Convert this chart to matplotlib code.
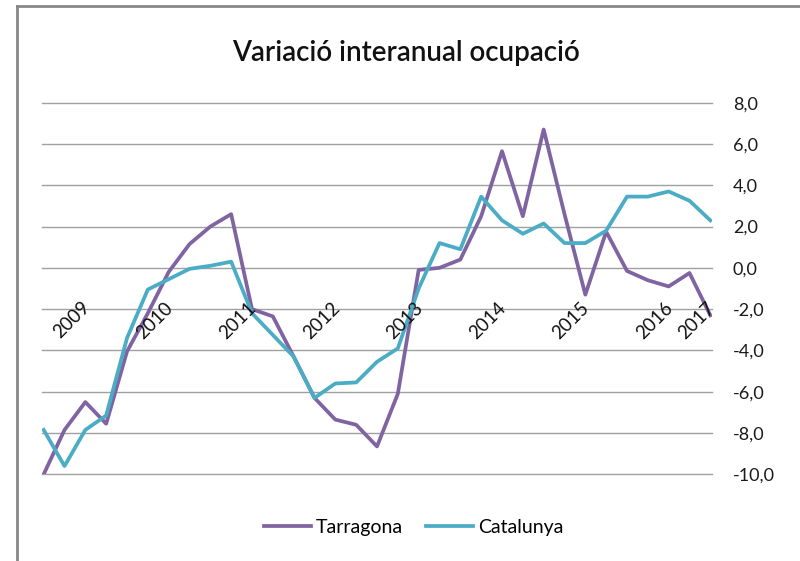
import matplotlib
matplotlib.use("Agg")
import matplotlib.pyplot as plt
import numpy as np

plt.rcParams['font.family'] = ['Lato', 'DejaVu Sans']

# quarterly year-on-year change, 2009 Q1 .. 2017 Q1
tarragona = [-10.0, -7.85, -6.5, -7.55, -4.05, -2.2, -0.2, 1.15, 2.0, 2.6,
             -2.0, -2.35, -4.3, -6.3, -7.35, -7.6, -8.65, -6.1, -0.1, 0.0,
             0.4, 2.5, 5.65, 2.5, 6.7, 2.6, -1.3, 1.75, -0.15, -0.6,
             -0.9, -0.25, -2.3]
catalunya = [-7.85, -9.6, -7.85, -7.15, -3.4, -1.05, -0.55, -0.05, 0.1, 0.3,
             -2.2, -3.25, -4.3, -6.3, -5.6, -5.55, -4.55, -3.9, -1.0, 1.2,
             0.9, 3.45, 2.3, 1.65, 2.15, 1.2, 1.2, 1.8, 3.45, 3.45,
             3.7, 3.25, 2.3]
year_labels = ['2009', '2010', '2011', '2012', '2013', '2014', '2015', '2016', '2017']
year_pos = [2, 6, 10, 14, 18, 22, 26, 30, 32]

x = np.arange(len(tarragona))

fig = plt.figure(figsize=(8, 5.61), dpi=100)
ax = fig.add_axes([0.0525, 0.1545, 0.8375, 0.6625])

ax.plot(x, tarragona, color='#8064A2', lw=2.7, label='Tarragona', zorder=3)
ax.plot(x, catalunya, color='#4BACC6', lw=2.7, label='Catalunya', zorder=3)

ax.set_xlim(-0.08, 32.08)
ax.set_ylim(-10, 8)
ax.set_yticks(np.arange(-10, 9, 2))
ax.set_yticklabels([f'{v:.1f}'.replace('.', ',') for v in np.arange(-10, 9, 2)])
ax.yaxis.tick_right()
ax.tick_params(axis='y', length=0, pad=15, labelsize=13, labelcolor='#1a1a1a')
ax.set_xticks([])
ax.grid(axis='y', color='#A0A0A0', lw=1)
for gl in ax.yaxis.get_gridlines():
    gl.set_clip_on(False)
ax.set_axisbelow(True)
for s in ax.spines.values():
    s.set_visible(False)

for lab, p in zip(year_labels, year_pos):
    ax.text(p + 0.35, -1.5, lab, rotation=45, ha='right', va='top',
            fontsize=13.5, color='#111111', zorder=4)

fig.text(0.508, 0.905, 'Variació interanual ocupació', ha='center', va='center',
         fontsize=20, fontweight='semibold', color='#111111')

fig.legend(loc='center', bbox_to_anchor=(0.517, 0.06), ncol=2, frameon=False,
           fontsize=14, handlelength=2.4, columnspacing=1.2, handletextpad=0.25)

# outer frame (top and left edges only)
fig.add_artist(plt.Line2D([0.0215, 0.0215], [0, 0.989], transform=fig.transFigure,
                          color='#888888', lw=2))
fig.add_artist(plt.Line2D([0.0215, 1], [0.989, 0.989], transform=fig.transFigure,
                          color='#888888', lw=2))

fig.savefig('out.png', dpi=100)
